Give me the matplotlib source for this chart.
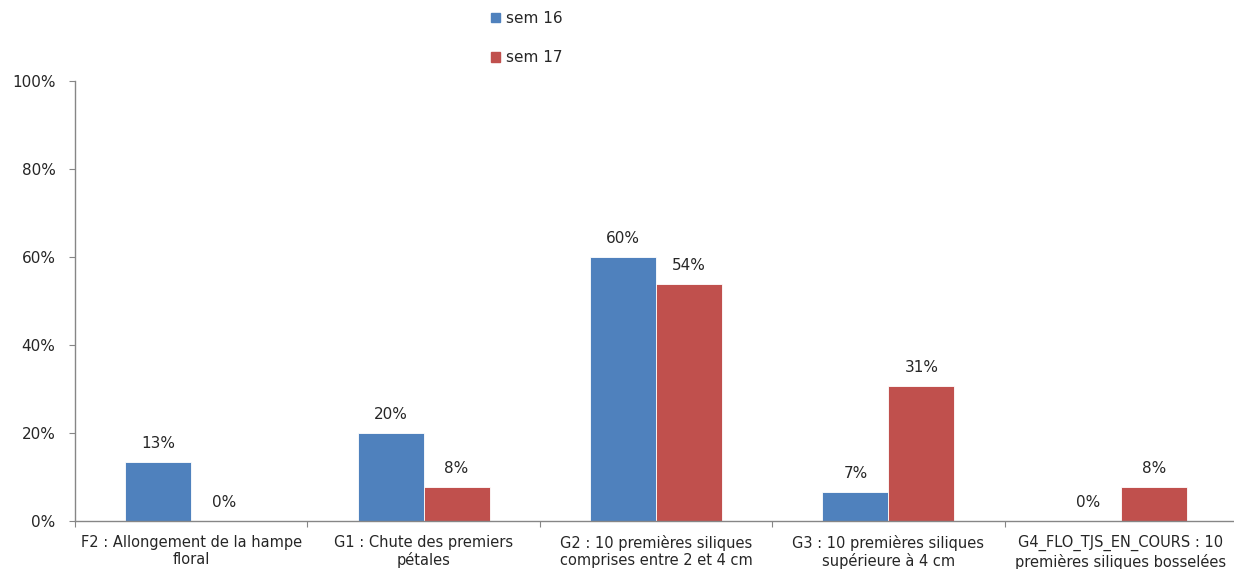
import matplotlib
matplotlib.use("Agg")
import matplotlib.pyplot as plt
import numpy as np
from matplotlib.patches import Patch

categories = [
    "F2 : Allongement de la hampe\nfloral",
    "G1 : Chute des premiers\npétales",
    "G2 : 10 premières siliques\ncomprises entre 2 et 4 cm",
    "G3 : 10 premières siliques\nsupérieure à 4 cm",
    "G4_FLO_TJS_EN_COURS : 10\npremières siliques bosselées",
]
series_names = ["sem 16", "sem 17"]
sem16 = [2 / 15, 3 / 15, 9 / 15, 1 / 15, 0.0]
sem17 = [0.0, 1 / 13, 7 / 13, 4 / 13, 1 / 13]
y_ticks = [0, 0.2, 0.4, 0.6, 0.8, 1.0]

BLUE = "#4F81BD"
RED = "#C0504D"
AXIS = "#868686"
TEXT = "#262626"

plt.rcParams["font.family"] = ["DejaVu Sans"]
plt.rcParams["font.size"] = 11

fig = plt.figure(figsize=(12.34, 5.69), dpi=100)
ax = fig.add_axes([75 / 1234, 48 / 569, 1162 / 1234, 440 / 569])

x = np.arange(len(categories))
w = 0.284
b1 = ax.bar(x - w / 2, sem16, w, color=BLUE, edgecolor="white", linewidth=0.6)
b2 = ax.bar(x + w / 2, sem17, w, color=RED, edgecolor="white", linewidth=0.6)

for bars, vals in ((b1, sem16), (b2, sem17)):
    for rect, v in zip(bars, vals):
        ax.annotate(f"{v:.0%}", (rect.get_x() + rect.get_width() / 2, v),
                    xytext=(0, 8), textcoords="offset points",
                    ha="center", va="bottom", fontsize=11, color=TEXT)

ax.set_xlim(-0.5, len(categories) - 0.5)
ax.set_ylim(0, 1)
ax.set_yticks(y_ticks)
ax.set_yticklabels([f"{t:.0%}" for t in y_ticks], color=TEXT)
ax.set_xticks(np.arange(len(categories) + 1) - 0.5)
ax.set_xticklabels([])
ax.set_xticks(x, minor=True)
ax.set_xticklabels(categories, minor=True, color=TEXT, fontsize=10.5, linespacing=1.2)
ax.tick_params(axis="x", which="minor", length=0, pad=10)
ax.tick_params(axis="x", which="major", length=4, color=AXIS, direction="out")
ax.tick_params(axis="y", length=4, color=AXIS, direction="out", pad=10)

for s in ("top", "right"):
    ax.spines[s].set_visible(False)
for s in ("left", "bottom"):
    ax.spines[s].set_color(AXIS)
    ax.spines[s].set_linewidth(1.0)

handles = [Patch(color=BLUE), Patch(color=RED)]
fig.legend(handles, series_names, loc="upper left", bbox_to_anchor=(477 / 1234, 1.005),
           frameon=False, handlelength=0.6, handleheight=0.6, handletextpad=0.4,
           labelspacing=1.6, fontsize=11, labelcolor=TEXT)

fig.savefig("out.png", dpi=100)
